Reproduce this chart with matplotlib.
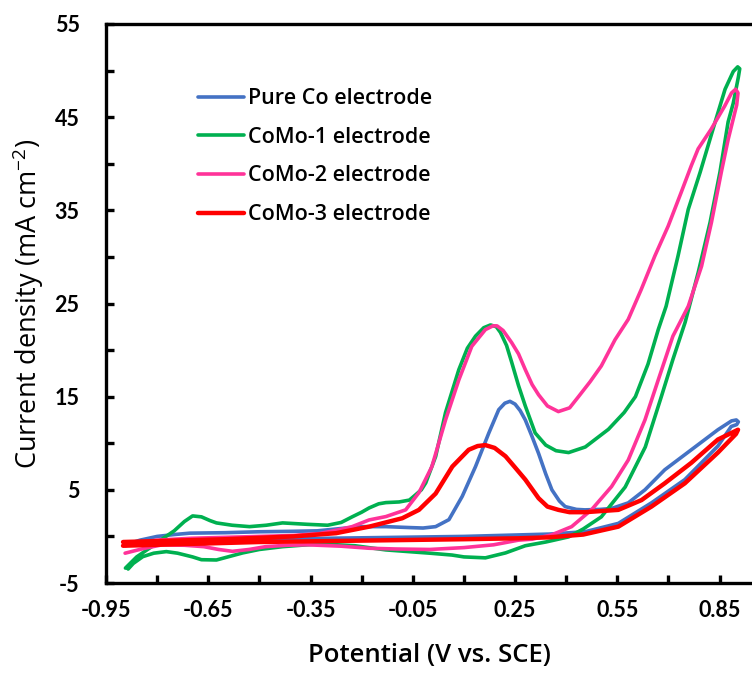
import matplotlib
matplotlib.use('Agg')
import matplotlib.pyplot as plt
from matplotlib.ticker import FixedLocator

plt.rcParams['font.family'] = ['Lato', 'DejaVu Sans']
plt.rcParams['mathtext.fontset'] = 'custom'
plt.rcParams['mathtext.rm'] = 'Open Sans'
plt.rcParams['mathtext.default'] = 'regular'

# ---- data (closed CV loops) ----
# Pure Co
co_x = [-0.893, -0.85, -0.8, -0.75, -0.704, -0.6, -0.5, -0.4, -0.33, -0.26, -0.2, -0.129,
        -0.06, -0.02, 0.017, 0.056, 0.095, 0.134, 0.173, 0.202, 0.22, 0.235, 0.25, 0.265,
        0.28, 0.3, 0.319, 0.34, 0.358, 0.38, 0.397, 0.43, 0.455, 0.5, 0.533, 0.582, 0.631,
        0.689, 0.767, 0.845, 0.885, 0.899, 0.905, 0.9, 0.884, 0.845, 0.748, 0.65, 0.553,
        0.455, 0.35, 0.26, 0.1, -0.1, -0.3, -0.5, -0.7, -0.893]
co_y = [-0.9, -0.4, 0.0, 0.2, 0.35, 0.4, 0.5, 0.55, 0.6, 0.85, 1.05, 1.05,
        0.95, 0.9, 1.05, 1.8, 4.3, 7.5, 11.1, 13.6, 14.3, 14.5, 14.2, 13.5,
        12.5, 10.7, 8.9, 6.7, 5.0, 3.8, 3.2, 2.9, 2.85, 2.9, 3.0, 3.6, 5.0,
        7.15, 9.3, 11.45, 12.4, 12.5, 12.3, 12.0, 11.8, 9.7, 6.1, 3.6, 1.4,
        0.5, 0.25, 0.16, 0.0, -0.1, -0.2, -0.4, -0.6, -0.9]

# CoMo-1
m1_x = [-0.893, -0.86, -0.82, -0.79, -0.75, -0.72, -0.696, -0.67, -0.645, -0.626, -0.58,
        -0.529, -0.48, -0.432, -0.36, -0.3, -0.26, -0.228, -0.2, -0.178, -0.15, -0.129,
        -0.09, -0.06, -0.042, -0.025, -0.012, 0.017, 0.046, 0.085, 0.11, 0.134, 0.158,
        0.178, 0.195, 0.207, 0.225, 0.24, 0.26, 0.28, 0.309, 0.34, 0.37, 0.407, 0.456,
        0.524, 0.57, 0.603, 0.64, 0.67, 0.693, 0.728, 0.758, 0.793, 0.837, 0.866, 0.89,
        0.903, 0.909, 0.905, 0.89, 0.875, 0.851, 0.822, 0.787, 0.749, 0.713, 0.679, 0.632,
        0.573, 0.503, 0.45, 0.407, 0.34, 0.28, 0.222, 0.163, 0.1, 0.065, 0.0, -0.129,
        -0.22, -0.324, -0.432, -0.5, -0.549, -0.626, -0.67, -0.696, -0.74, -0.773, -0.81,
        -0.842, -0.87, -0.885]
m1_y = [-3.4, -2.2, -1.2, -0.4, 0.6, 1.6, 2.2, 2.1, 1.7, 1.45, 1.2,
        1.05, 1.2, 1.45, 1.3, 1.2, 1.5, 2.1, 2.6, 3.06, 3.5, 3.63,
        3.7, 3.9, 4.46, 5.0, 5.75, 8.58, 13.3, 17.9, 20.2, 21.5, 22.4,
        22.7, 22.5, 21.9, 20.5, 18.7, 16.2, 14.0, 11.1, 9.8, 9.2, 9.0, 9.6,
        11.5, 13.3, 15.0, 18.5, 22.2, 24.7, 30.1, 35.1, 39.1, 44.5, 48.0, 49.9,
        50.4, 50.2, 49.3, 46.5, 44.5, 39.1, 33.7, 28.3, 23.0, 19.0, 15.0, 9.6,
        5.3, 2.1, 0.8, -0.05, -0.6, -1.0, -1.77, -2.3, -2.2, -2.0, -1.8, -1.45,
        -1.0, -0.8, -1.1, -1.4, -1.77, -2.53, -2.5, -2.2, -1.8, -1.63, -1.8,
        -2.17, -2.9, -3.5]

# CoMo-2
m2_x = [-0.893, -0.85, -0.8, -0.7, -0.6, -0.5, -0.4, -0.324, -0.27, -0.228, -0.178,
        -0.129, -0.071, -0.032, 0.006, 0.046, 0.085, 0.123, 0.163, 0.185, 0.197, 0.215,
        0.24, 0.26, 0.28, 0.3, 0.319, 0.345, 0.377, 0.41, 0.436, 0.47, 0.503, 0.543,
        0.582, 0.62, 0.66, 0.699, 0.737, 0.767, 0.787, 0.825, 0.865, 0.885, 0.897,
        0.904, 0.9, 0.875, 0.855, 0.826, 0.797, 0.758, 0.713, 0.67, 0.631, 0.582, 0.533,
        0.474, 0.416, 0.357, 0.3, 0.26, 0.187, 0.1, 0.0, -0.1, -0.178, -0.26, -0.359,
        -0.42, -0.482, -0.53, -0.579, -0.62, -0.663, -0.72, -0.785, -0.84, -0.894]
m2_y = [-1.0, -0.6, -0.4, -0.2, -0.1, 0.0, 0.1, 0.3, 0.7, 1.05, 1.77,
        2.13, 2.85, 4.7, 7.5, 12.5, 16.8, 20.4, 22.2, 22.6, 22.6, 22.1,
        20.8, 19.6, 17.9, 16.3, 15.2, 14.0, 13.4, 13.8, 15.0, 16.6, 18.3, 21.1,
        23.3, 26.5, 30.1, 33.3, 36.9, 39.8, 41.6, 43.7, 46.2, 47.6, 48.0,
        47.6, 46.3, 42.6, 39.1, 33.7, 29.0, 24.7, 21.5, 16.8, 12.5, 8.2, 5.35,
        2.85, 1.05, 0.16, -0.3, -0.4, -0.9, -1.2, -1.4, -1.35, -1.27, -1.05, -0.9,
        -0.95, -1.1, -1.4, -1.6, -1.4, -1.1, -0.95, -0.9, -1.3, -1.8]

# CoMo-3
m3_x = [-0.9, -0.8, -0.6, -0.4, -0.275, -0.178, -0.081, -0.032, 0.017, 0.066, 0.114,
        0.14, 0.163, 0.19, 0.222, 0.25, 0.28, 0.319, 0.345, 0.377, 0.41, 0.455, 0.553,
        0.621, 0.689, 0.767, 0.845, 0.904, 0.898, 0.845, 0.748, 0.65, 0.553, 0.45,
        0.35, 0.26, 0.1, -0.1, -0.3, -0.5, -0.7, -0.9]
m3_y = [-0.6, -0.5, -0.3, 0.0, 0.35, 1.05, 1.95, 2.85, 4.6, 7.5, 9.3,
        9.7, 9.8, 9.5, 8.6, 7.4, 6.1, 4.1, 3.2, 2.85, 2.6, 2.6, 2.85,
        3.9, 5.7, 7.9, 10.4, 11.45, 11.0, 9.0, 5.7, 3.2, 1.05, 0.2,
        -0.1, -0.2, -0.3, -0.4, -0.5, -0.6, -0.8, -1.0]

labels = ['Pure Co electrode', 'CoMo-1 electrode', 'CoMo-2 electrode', 'CoMo-3 electrode']
colors = ['#4472C4', '#00B050', '#FF3399', '#FF0000']
x_major = [-0.95, -0.65, -0.35, -0.05, 0.25, 0.55, 0.85]
x_minor = [-0.8, -0.5, -0.2, 0.1, 0.4, 0.7]
y_major = [-5, 5, 15, 25, 35, 45, 55]
y_minor = [0, 10, 20, 30, 40, 50]

fig = plt.figure(figsize=(7.52, 6.75), dpi=100)
ax = fig.add_axes([106 / 752, 92 / 675, 646 / 752, 559 / 675])

series = [(co_x, co_y), (m1_x, m1_y), (m2_x, m2_y), (m3_x, m3_y)]
widths = [2.6, 2.6, 2.6, 3.2]
for (xs, ys), lab, c, lw in zip(series, labels, colors, widths):
    ax.plot(xs, ys, color=c, lw=lw, label=lab, solid_joinstyle='round', solid_capstyle='round')

ax.set_xlim(-0.95, 0.945)
ax.set_ylim(-5, 55)
ax.xaxis.set_major_locator(FixedLocator(x_major))
ax.xaxis.set_minor_locator(FixedLocator(x_minor))
ax.yaxis.set_major_locator(FixedLocator(y_major))
ax.yaxis.set_minor_locator(FixedLocator(y_minor))
ax.set_xticklabels(['%.2f' % v for v in x_major])
ax.set_yticklabels([str(v) for v in y_major])

for s in ['left', 'bottom', 'top']:
    ax.spines[s].set_linewidth(2.4)
ax.spines['right'].set_visible(False)
ax.tick_params(which='both', direction='in', width=2.4, length=6, top=False, right=False)
ax.tick_params(axis='y', which='major', pad=19)
ax.tick_params(axis='x', which='major', pad=12)
for t in ax.get_xticklabels() + ax.get_yticklabels():
    t.set_fontsize(15.5)
    t.set_fontweight('bold')

ax.set_xlabel('Potential (V vs. SCE)', fontsize=18.5, fontweight='semibold',
              family=['Open Sans', 'DejaVu Sans'], labelpad=16)
ax.set_ylabel(r'Current density (mA cm$^{-2}$)', fontsize=19.5,
              family=['Open Sans', 'DejaVu Sans'], labelpad=6)

leg = ax.legend(loc='upper left', bbox_to_anchor=(0.113, 0.92), frameon=False,
                handlelength=2.1, handletextpad=0.2, labelspacing=0.82,
                prop={'size': 15.5, 'weight': 'semibold', 'family': ['Open Sans', 'DejaVu Sans']})

fig.savefig('out.png', dpi=100)
